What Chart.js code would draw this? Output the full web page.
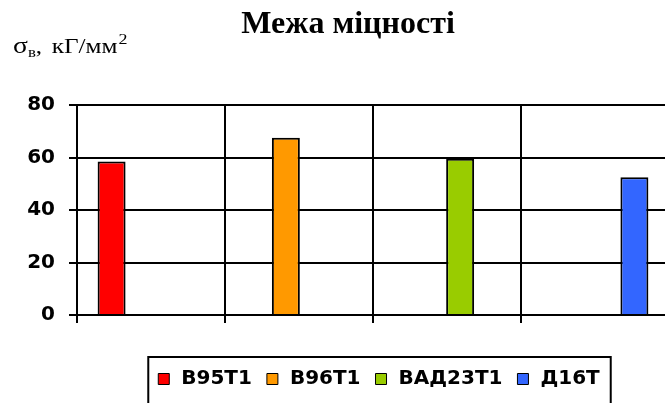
<!DOCTYPE html>
<html>
<head>
<meta charset="utf-8">
<script src="https://cdn.jsdelivr.net/npm/chart.js@4.4.0/dist/chart.umd.min.js"></script>
<style>
  html, body { margin: 0; background: #ffffff; overflow: hidden; }
  #wrap { width: 669px; height: 403px; }
</style>
</head>
<body>
<div id="wrap"><canvas id="chart"></canvas></div>
<script>
const alloys = ['В95Т1', 'В96Т1', 'ВАД23Т1', 'Д16Т'];
const strength = [58.5, 67.5, 59.5, 52.5];
const barColors = ['#ff0000', '#ff9900', '#99cc00', '#3366ff'];
const yTicks = [0, 20, 40, 60, 80];

// one dataset per alloy, each only filled in its own category
const datasets = alloys.map(function(name, i) {
    return {
        label: name,
        data: alloys.map((a, j) => j === i ? strength[i] : null),
        backgroundColor: barColors[i],
        borderColor: '#000000',
        borderWidth: 2,
        categoryPercentage: 0.71,
        barPercentage: 1.065
    };
});

// title, axis caption and the frame round the legend
const extrasPlugin = {
    id: 'extras',
    afterLayout(chart) {
        // legend sits a little right of the plot centre
        const lg = chart.legend;
        lg.left += 6;
        lg.right += 6;
        lg.legendHitBoxes.forEach(function(hb) { hb.left += 6; });
    },
    afterDraw(chart) {
        const ctx = chart.ctx;
        ctx.save();
        ctx.fillStyle = '#000000';
        ctx.textAlign = 'center';
        ctx.textBaseline = 'alphabetic';
        ctx.font = 'bold 32px "Liberation Serif"';
        ctx.fillText('Межа міцності', 348, 33);

        // σв, кГ/мм²
        ctx.textAlign = 'left';
        ctx.translate(13, 53);
        ctx.scale(1.2, 1);
        let x = 0;
        ctx.font = '23px "Liberation Serif"';
        ctx.fillText('σ', x, 0);
        x += ctx.measureText('σ').width;
        ctx.font = '14px "Liberation Serif"';
        ctx.fillText('в', x, 4);
        x += ctx.measureText('в').width;
        ctx.font = '21px "Liberation Serif"';
        ctx.fillText(',', x, 0);
        x += ctx.measureText(',').width + 8;
        ctx.fillText('кГ/мм', x, 0);
        x += ctx.measureText('кГ/мм').width;
        ctx.font = '15px "Liberation Serif"';
        ctx.fillText('2', x + 1, -9);
        ctx.restore();

        const boxes = chart.legend.legendHitBoxes;
        if (boxes && boxes.length) {
            const first = boxes[0];
            const last = boxes[boxes.length - 1];
            const left = first.left - 10;
            const right = last.left + last.width + 11;
            const top = first.top - 12;
            ctx.save();
            ctx.strokeStyle = '#000000';
            ctx.lineWidth = 2;
            ctx.strokeRect(left, top, right - left, chart.height - top + 10);
            ctx.restore();
        }
    }
};

new Chart(document.getElementById('chart'), {
    type: 'bar',
    data: {
        labels: alloys,
        datasets: datasets
    },
    options: {
        responsive: true,
        maintainAspectRatio: false,
        animation: false,
        layout: {
            padding: { top: 105, left: 0, right: 0, bottom: 4 }
        },
        plugins: {
            title: { display: false },
            tooltip: { enabled: false },
            legend: {
                position: 'bottom',
                fullSize: false,
                labels: {
                    boxWidth: 11,
                    boxHeight: 11,
                    padding: 15,
                    color: '#000000',
                    font: {
                        family: '"DejaVu Sans"',
                        size: 20,
                        weight: 'bold'
                    },
                    generateLabels: function(chart) {
                        return Chart.defaults.plugins.legend.labels.generateLabels(chart).map(function(item) {
                            item.text = '\u200a' + item.text;
                            item.lineWidth = 1;
                            return item;
                        });
                    }
                }
            }
        },
        scales: {
            x: {
                offset: true,
                ticks: { display: false },
                grid: {
                    color: '#000000',
                    lineWidth: 2,
                    tickLength: 8,
                    offset: true
                },
                border: { display: true, color: '#000000', width: 2 },
                afterFit: function(scale) {
                    scale.height = 39;
                }
            },
            y: {
                min: 0,
                max: 80,
                afterBuildTicks: function(scale) {
                    scale.ticks = yTicks.map(v => ({ value: v }));
                },
                ticks: {
                    padding: 14,
                    color: '#000000',
                    font: {
                        family: '"DejaVu Sans"',
                        size: 20,
                        weight: 'bold'
                    }
                },
                grid: {
                    color: '#000000',
                    lineWidth: 2,
                    tickLength: 8
                },
                border: { display: true, color: '#000000', width: 2 },
                afterFit: function(scale) {
                    scale.width = 77;
                }
            }
        }
    },
    plugins: [extrasPlugin]
});
</script>
</body>
</html>
